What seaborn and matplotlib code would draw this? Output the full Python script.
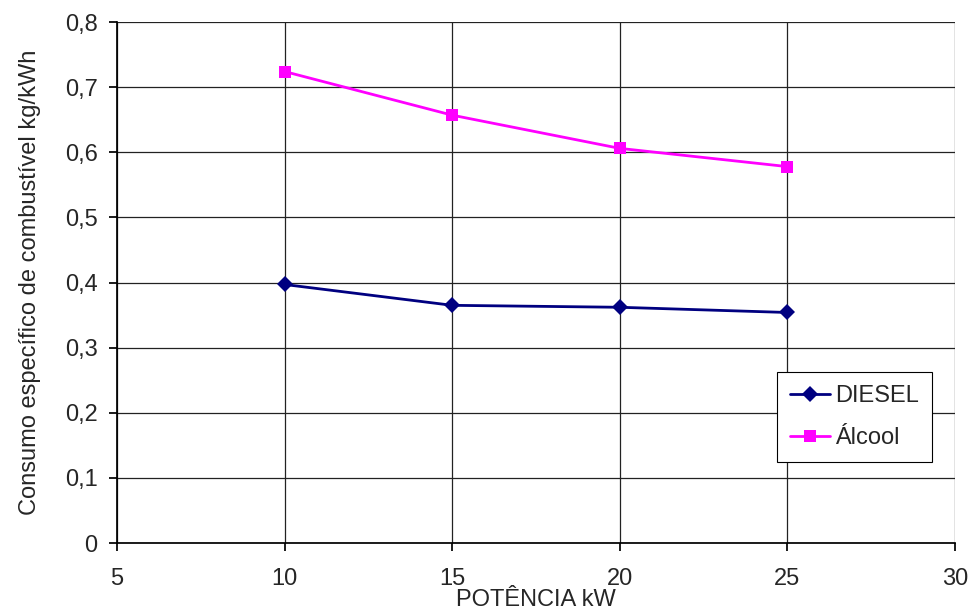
import numpy as np
import pandas as pd
import seaborn as sns
import matplotlib.pyplot as plt
from matplotlib.ticker import FuncFormatter

# dados
potencia = [10, 15, 20, 25]
diesel = [0.397, 0.365, 0.362, 0.354]
alcool = [0.724, 0.657, 0.606, 0.578]
series = ['DIESEL', 'Álcool']
x_ticks = [5, 10, 15, 20, 25, 30]
y_ticks = [0, 0.1, 0.2, 0.3, 0.4, 0.5, 0.6, 0.7, 0.8]

sns.set_theme(style='ticks')
plt.rcParams['font.family'] = ['Liberation Sans', 'DejaVu Sans']

df = pd.DataFrame({
    'potencia': potencia * 2,
    'consumo': diesel + alcool,
    'combustivel': [series[0]] * len(potencia) + [series[1]] * len(potencia),
})

fig = plt.figure(figsize=(9.73, 6.12), dpi=100)
ax = fig.add_axes([0.1202, 0.1127, 0.8613, 0.8513])

sns.lineplot(data=df, x='potencia', y='consumo', hue='combustivel', style='combustivel',
             palette={'DIESEL': '#000080', 'Álcool': '#FF00FF'},
             markers={'DIESEL': 'D', 'Álcool': 's'}, dashes=False,
             markersize=8, markeredgewidth=0, linewidth=2, ax=ax)

ax.set_xlim(5, 30)
ax.set_ylim(0, 0.8)
ax.set_xticks(x_ticks)
ax.set_yticks(y_ticks)
ax.yaxis.set_major_formatter(FuncFormatter(lambda v, p: '0' if v == 0 else f'{v:.1f}'.replace('.', ',')))
ax.grid(True, color='#222222', linewidth=0.9)
ax.set_axisbelow(True)
for s in ['top', 'right']:
    ax.spines[s].set_visible(False)
ax.spines['left'].set_color('black')
ax.spines['bottom'].set_color('black')
ax.tick_params(axis='both', labelsize=17, length=6, color='black')
ax.tick_params(axis='x', pad=12)
ax.tick_params(axis='y', pad=8)

ax.set_xlabel('POTÊNCIA kW', fontsize=17, labelpad=-1)
ax.set_ylabel('Consumo específico de combustível kg/kWh', fontsize=17, labelpad=17)

handles, labels = ax.get_legend_handles_labels()
leg = ax.legend(handles, labels, loc='upper left', bbox_to_anchor=(0.788, 0.328),
                borderaxespad=0, fontsize=17, frameon=True, fancybox=False, edgecolor='black',
                handlelength=1.7, handletextpad=0.2, borderpad=0.55, labelspacing=0.85,
                framealpha=1)
leg.get_frame().set_linewidth(0.8)

fig.savefig('out.png', dpi=100)
